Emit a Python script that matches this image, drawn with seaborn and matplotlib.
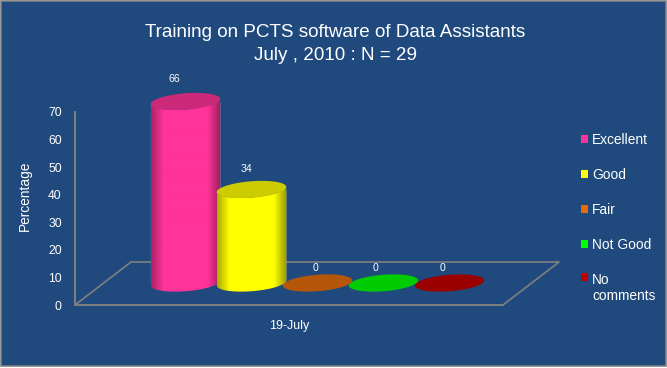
import numpy as np
import matplotlib
matplotlib.use("Agg")
import matplotlib.pyplot as plt
from matplotlib.colors import to_rgb
from matplotlib.patches import Patch, Polygon, Rectangle
import seaborn as sns

# ---------- Data ----------
categories = ["Excellent", "Good", "Fair", "Not Good", "No\ncomments"]
percentages = [66, 34, 0, 0, 0]
y_ticks = [0, 10, 20, 30, 40, 50, 60, 70]
bar_colors = ["#FF3399", "#FFFF00", "#E46C0A", "#00FF00", "#C00000"]

title_text = "Training on PCTS software of Data Assistants\nJuly , 2010 : N = 29"
x_text = "19-July"
y_text = "Percentage"

# ---------- Style ----------
W, H = 667, 368
BG = "#204A7E"
LINE = "#808080"
draw_order = [4, 3, 2, 0, 1]        # overlaps in the original
label_shift = [(-11, 22), (-5, 20), (-2, 15), (-8, 15), (-7, 15)]   # px


def px_box(left, top, right, bottom):
    return [left / W, 1 - bottom / H, (right - left) / W, (bottom - top) / H]


sns.set_theme(style="white")
plt.rcParams["font.family"] = ["Liberation Sans", "DejaVu Sans"]

fig = plt.figure(figsize=(W / 100, H / 100), dpi=100, facecolor="white")
fig.add_artist(Rectangle((1 / W, 2 / H), 664.5 / W, 365 / H, transform=fig.transFigure,
                         facecolor=BG, edgecolor=LINE, linewidth=1.2, zorder=-5))

# ---------- Frame: y axis and the floor ----------
frame = fig.add_axes(px_box(75, 112, 503, 305))
frame.patch.set_alpha(0)
frame.set_xlim(0, 1)
frame.set_ylim(0, 70)
frame.set_xticks([])
frame.set_yticks(y_ticks)
frame.tick_params(axis="y", length=0, pad=9.5, labelsize=8.7, labelcolor="white")
sns.despine(ax=frame, top=True, right=True)
for side in ["left", "bottom"]:
    frame.spines[side].set_color(LINE)
    frame.spines[side].set_linewidth(1.4)
fx, fy = 56 / 428, 43 / 193
frame.plot([0, fx, 1 + fx, 1], [0, fy, fy, 0], transform=frame.transAxes,
           color=LINE, lw=1.2, clip_on=False)
frame.set_xlabel(x_text, color="white", fontsize=9)
frame.xaxis.set_label_coords(0.5, -21 / 193, transform=frame.transAxes)
frame.xaxis.label.set_verticalalignment("center")
frame.set_ylabel(y_text, color="white", fontsize=9.9)
frame.yaxis.set_label_coords(-50 / 428, 109 / 193, transform=frame.transAxes)
frame.yaxis.label.set_verticalalignment("center")

# ---------- Bars ----------
ax = fig.add_axes(px_box(119.5, 35.5, 515.5, 310.5), zorder=2)
ax.patch.set_alpha(0)
sns.barplot(x=categories, y=percentages, hue=categories, palette=bar_colors,
            saturation=1, width=69 / 66, legend=False, ax=ax)
ax.set_xlim(-1, 5)
ax.set_ylim(-10, 90)
ax.set_axis_off()

# cylinder ellipse, tilted, in data units
a_px, b_px, tilt = 34.8, 8.2, np.deg2rad(4.5)
sx, sy = 66, 2.75


def ring(cx, cy, t):
    px = a_px * np.cos(t) * np.cos(tilt) - b_px * np.sin(t) * np.sin(tilt)
    py = a_px * np.cos(t) * np.sin(tilt) + b_px * np.sin(t) * np.cos(tilt)
    return np.column_stack([cx + px / sx, cy + py / sy])


bars = list(ax.patches)
for i in draw_order:
    bar, value = bars[i], percentages[i]
    z = 3 + draw_order.index(i) * 3
    cx = bar.get_x() + bar.get_width() / 2
    rgb = np.array(to_rgb(bar_colors[i]))
    cap = rgb * 0.8
    tt = np.linspace(0, 2 * np.pi, 120)
    if value > 0:
        low = np.linspace(0, -np.pi, 60)
        outline = np.vstack([ring(cx, 0, low), ring(cx, value, low[::-1])])
        body = Polygon(outline, closed=True, transform=ax.transData, facecolor="none", edgecolor="none")
        ax.add_patch(body)
        shade = np.interp(np.linspace(0, 1, 70), [0, 0.18, 0.82, 1], [0.68, 1, 1, 0.6])
        img = ax.imshow((shade[:, None] * rgb)[None, :, :], aspect="auto", zorder=z,
                        extent=[outline[:, 0].min(), outline[:, 0].max(), -5, value + 4])
        img.set_clip_path(body)
        bar.set_clip_path(body)
    else:
        bar.set_visible(False)
    ax.add_patch(Polygon(ring(cx, value, tt), closed=True, facecolor=cap, edgecolor="none",
                         zorder=z + 1, clip_on=False))
    ax.annotate(str(value), (cx, value), xytext=label_shift[i], textcoords="offset pixels",
                ha="center", va="center", color="white", fontsize=7.6, zorder=30)
ax.set_xlim(-1, 5)
ax.set_ylim(-10, 90)

# ---------- Title ----------
fig.text(335 / W, 1 - 44 / H, title_text, ha="center", va="center", color="white",
         fontsize=13.6, linespacing=1.5)

# ---------- Legend ----------
handles = [Patch(facecolor=c, edgecolor="none") for c in bar_colors]
leg = fig.legend(handles, categories, loc="upper left", bbox_to_anchor=(581 / W, 1 - 133 / H),
                 frameon=False, fontsize=9.9, labelcolor="white", handlelength=0.51, handleheight=0.51,
                 handletextpad=0.29, labelspacing=1.52, borderpad=0, borderaxespad=0)
leg.legend_handles[-1].set_y(9)

fig.savefig("out.png", dpi=100, facecolor="white")
